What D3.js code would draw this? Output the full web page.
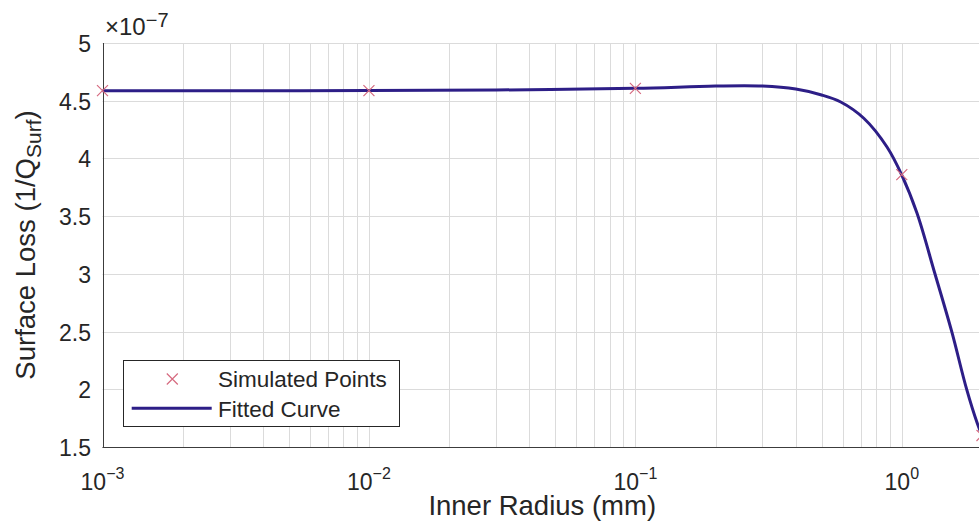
<!DOCTYPE html>
<head>
	<meta charset="UTF-8">
	<script src="https://d3js.org/d3.v7.min.js"></script>
	<title>Surface loss vs inner radius</title>
<style>
	body{
		margin: 0;
		background-color: #fff;
		overflow: hidden;
	}
	svg{
		display: block;
	}
	text{
		font-family: "Liberation Sans", Arial, Helvetica, sans-serif;
		fill: #262626;
	}
</style>
</head>

<body>
	<svg width=979 height=529></svg>
</body>

<script>
	// Simulated points (x in mm, y in units of 1e-7)
	var simX = [0.001, 0.01, 0.1, 1, 2];
	var simY = [4.587, 4.588, 4.607, 3.86, 1.6];

	// Fitted curve
	var fitX = [0.001, 0.003, 0.01, 0.03, 0.1, 0.2, 0.3, 0.4, 0.5, 0.59, 0.72, 0.88, 1.0, 1.14, 1.33, 1.54, 1.75, 1.92, 2.0];
	var fitY = [4.587, 4.587, 4.588, 4.593, 4.607, 4.627, 4.627, 4.601, 4.55, 4.489, 4.348, 4.099, 3.856, 3.527, 3.005, 2.499, 2.003, 1.705, 1.6];

	// Tick labels
	var yTicks = [1.5, 2, 2.5, 3, 3.5, 4, 4.5, 5];
	var xDecades = [-3, -2, -1, 0];

	var lineColor = "#2d1e87";
	var markColor = "#d66b80";
	var gridColor = "#dbdbdb";
	var axisColor = "#3c3c3c";

	// plot box (note: "top" is reserved on window)
	var pLeft = 102.5, pRight = 982, pTop = 43, pBottom = 447;

	var svg = d3.select("svg");

	var x = d3.scaleLog()
				.domain([1e-3, 2])
				.range([pLeft, pRight]);
	var y = d3.scaleLinear()
				.domain([1.5, 5])
				.range([pBottom, pTop]);

	// Minor x grid (2..9 in each decade)
	var minorX = [];
	for(var e of xDecades){
		for(var m = 2; m <= 9; m++){
			var v = m * Math.pow(10, e);
			if(v <= 2) minorX.push(v);
		}
	}

	var grid = svg.append("g").attr("id", "grid");
	grid.selectAll("line.minor")
		.data(minorX).enter()
		.append("line")
		.attr("class", "minor")
		.attr("x1", d => Math.round(x(d)) + 0.5)
		.attr("x2", d => Math.round(x(d)) + 0.5)
		.attr("y1", pTop)
		.attr("y2", pBottom)
		.attr("stroke", gridColor)
		.attr("stroke-width", 1);
	grid.selectAll("line.majorx")
		.data(xDecades).enter()
		.append("line")
		.attr("class", "majorx")
		.attr("x1", d => Math.round(x(Math.pow(10, d))) + 0.5)
		.attr("x2", d => Math.round(x(Math.pow(10, d))) + 0.5)
		.attr("y1", pTop)
		.attr("y2", pBottom)
		.attr("stroke", gridColor)
		.attr("stroke-width", 1);
	grid.selectAll("line.majory")
		.data(yTicks).enter()
		.append("line")
		.attr("class", "majory")
		.attr("x1", pLeft)
		.attr("x2", pRight)
		.attr("y1", d => Math.round(y(d)) + 0.5)
		.attr("y2", d => Math.round(y(d)) + 0.5)
		.attr("stroke", gridColor)
		.attr("stroke-width", 1);

	// Axis lines (box off)
	svg.append("line")
		.attr("x1", Math.round(pLeft) + 0.5).attr("x2", Math.round(pLeft) + 0.5)
		.attr("y1", pTop).attr("y2", pBottom + 0.5)
		.attr("stroke", axisColor).attr("stroke-width", 1);
	svg.append("line")
		.attr("x1", pLeft).attr("x2", pRight)
		.attr("y1", Math.round(pBottom) + 0.5).attr("y2", Math.round(pBottom) + 0.5)
		.attr("stroke", axisColor).attr("stroke-width", 1);

	// Y tick labels
	svg.append("g").selectAll("text")
		.data(yTicks).enter()
		.append("text")
		.attr("x", 91)
		.attr("y", d => y(d) + 9)
		.attr("text-anchor", "end")
		.attr("font-size", "23px")
		.text(d => d);

	// X tick labels 10^n (real minus sign in the exponent)
	var xl = svg.append("g").selectAll("text")
		.data(xDecades).enter()
		.append("text")
		.attr("x", d => x(Math.pow(10, d)))
		.attr("y", 490)
		.attr("text-anchor", "middle")
		.attr("font-size", "23px");
	xl.append("tspan").text("10");
	xl.append("tspan")
		.attr("font-size", "16px")
		.attr("dy", -11)
		.text(d => (d < 0 ? "\u2212" + (-d) : d));

	// Exponent multiplier
	var mult = svg.append("text")
		.attr("x", 105)
		.attr("y", 35)
		.attr("font-size", "24px");
	mult.append("tspan").text("\u00d710");
	mult.append("tspan").attr("font-size", "20px").attr("dy", -8.5).text("\u22127");

	// Axis titles
	svg.append("text")
		.attr("x", (pLeft + pRight) / 2)
		.attr("y", 515)
		.attr("text-anchor", "middle")
		.attr("font-size", "27.5px")
		.text("Inner Radius (mm)");

	var yl = svg.append("text")
		.attr("transform", "translate(35," + ((pTop + pBottom) / 2) + ") rotate(-90)")
		.attr("text-anchor", "middle")
		.attr("font-size", "27.5px");
	yl.append("tspan").text("Surface Loss (1/Q");
	yl.append("tspan").attr("font-size", "21px").attr("dy", 6).text("Surf");
	yl.append("tspan").attr("dy", -6).text(")");

	// Clip to plot area
	svg.append("clipPath").attr("id", "plotClip")
		.append("rect")
		.attr("x", pLeft - 8).attr("y", pTop - 8)
		.attr("width", pRight - pLeft + 16).attr("height", pBottom - pTop + 16);

	var plot = svg.append("g").attr("clip-path", "url(#plotClip)");

	var fitData = fitX.map((v, i) => [v, fitY[i]]);
	var line = d3.line()
				.x(d => x(d[0]))
				.y(d => y(d[1]))
				.curve(d3.curveCatmullRom.alpha(0.5));

	plot.append("path")
		.datum(fitData)
		.attr("d", line)
		.attr("fill", "none")
		.attr("stroke", lineColor)
		.attr("stroke-width", 3);

	// Simulated points as x markers
	var simData = simX.map((v, i) => [v, simY[i]]);
	var cross = "M-5.5,-5.5L5.5,5.5M-5.5,5.5L5.5,-5.5";
	plot.selectAll("path.mark")
		.data(simData).enter()
		.append("path")
		.attr("class", "mark")
		.attr("d", cross)
		.attr("transform", d => "translate(" + x(d[0]) + "," + y(d[1]) + ")")
		.attr("fill", "none")
		.attr("stroke", markColor)
		.attr("stroke-width", 1.2);

	// Legend
	var legend = svg.append("g").attr("id", "legend");
	legend.append("rect")
		.attr("x", 123.5).attr("y", 360.5)
		.attr("width", 276).attr("height", 66)
		.attr("fill", "#fff")
		.attr("stroke", "#262626")
		.attr("stroke-width", 1);
	legend.append("path")
		.attr("d", cross)
		.attr("transform", "translate(172.3,379)")
		.attr("fill", "none")
		.attr("stroke", markColor)
		.attr("stroke-width", 1.2);
	legend.append("line")
		.attr("x1", 131.7).attr("x2", 211.7)
		.attr("y1", 408.3).attr("y2", 408.3)
		.attr("stroke", lineColor)
		.attr("stroke-width", 3);
	legend.append("text")
		.attr("x", 218).attr("y", 387)
		.attr("font-size", "22.5px")
		.text("Simulated Points");
	legend.append("text")
		.attr("x", 218).attr("y", 417)
		.attr("font-size", "22.5px")
		.text("Fitted Curve");
</script>
